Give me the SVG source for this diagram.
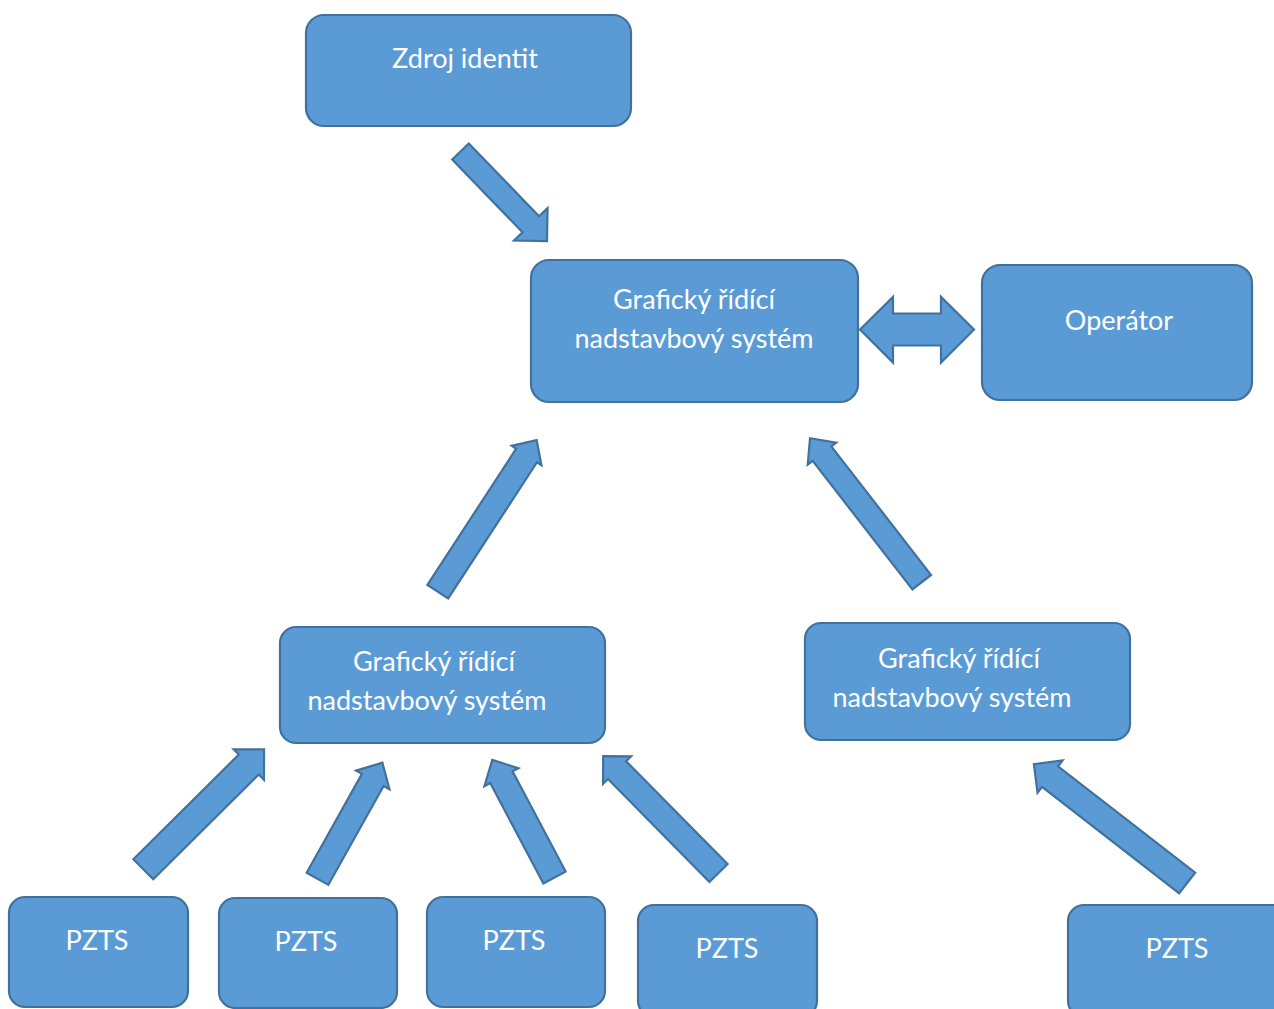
<svg xmlns="http://www.w3.org/2000/svg" width="1274" height="1009" viewBox="0 0 1274 1009">
<style>
.box{fill:#5B9BD5;stroke:#41719C;stroke-width:2.2}
.arr{fill:#5B9BD5;stroke:#41719C;stroke-width:2.2;stroke-linejoin:miter}
.t{font-family:Lato,"Open Sans",sans-serif;font-size:27px;fill:#FFFFFF;text-anchor:middle}
</style>
<rect width="1274" height="1009" fill="#FFFFFF"/>
<g id="connectors">
<polygon class="arr" transform="translate(460.5,151.5) rotate(46)" points="0,-11.5 101.2,-11.5 101.2,-23.3 124.5,0 101.2,23.3 101.2,11.5 0,11.5"/>
<polygon class="arr" points="860,329.5 893,297 893,313.5 941,313.5 941,297 974,329.5 941,362.5 941,345.5 893,345.5 893,362.5"/>
<polygon class="arr" transform="translate(437.8,591.7) rotate(-56.9)" points="0,-12.4 162.6,-12.4 162.6,-17.7 181,0 162.6,17.7 162.6,12.4 0,12.4"/>
<polygon class="arr" transform="translate(921.7,582.2) rotate(-127.8)" points="0,-11.8 162.7,-11.8 162.7,-18 182.2,0 162.7,18 162.7,11.8 0,11.8"/>
<polygon class="arr" transform="translate(143.3,869.3) rotate(-44.8)" points="0,-14.1 148.7,-14.1 148.7,-21.5 170.2,0 148.7,21.5 148.7,14.1 0,14.1"/>
<polygon class="arr" transform="translate(317.5,878.8) rotate(-60.8)" points="0,-12.4 113.3,-12.4 113.3,-19.1 133,0 113.3,19.1 113.3,12.4 0,12.4"/>
<polygon class="arr" transform="translate(554.5,877.5) rotate(-117.9)" points="0,-12.6 113.5,-12.6 113.5,-19.2 133,0 113.5,19.2 113.5,12.6 0,12.6"/>
<polygon class="arr" transform="translate(718.5,873) rotate(-134.6)" points="0,-12.7 144.5,-12.7 144.5,-19.7 164.2,0 144.5,19.7 144.5,12.7 0,12.7"/>
<polygon class="arr" transform="translate(1187.2,883) rotate(-142.2)" points="0,-13 173.6,-13 173.6,-20.4 194,0 173.6,20.4 173.6,13 0,13"/>
</g>
<g id="zdroj">
<rect class="box" x="306" y="15" width="325" height="111" rx="18"/>
<text class="t" x="465" y="68">Zdroj identit</text>
</g>
<g id="gns-top">
<rect class="box" x="531" y="260" width="327" height="142" rx="18"/>
<text class="t" x="694" y="309">Grafický řídící</text>
<text class="t" x="694" y="348">nadstavbový systém</text>
</g>
<g id="operator">
<rect class="box" x="982" y="265" width="270" height="135" rx="18"/>
<text class="t" x="1119" y="330">Operátor</text>
</g>
<g id="gns-left">
<rect class="box" x="280" y="627" width="325" height="116" rx="16"/>
<text class="t" x="434" y="671">Grafický řídící</text>
<text class="t" x="427" y="710">nadstavbový systém</text>
</g>
<g id="gns-right">
<rect class="box" x="805" y="623" width="325" height="117" rx="16"/>
<text class="t" x="959" y="668">Grafický řídící</text>
<text class="t" x="952" y="707">nadstavbový systém</text>
</g>
<g id="pzts1">
<rect class="box" x="9" y="897" width="179" height="110" rx="16"/>
<text class="t" x="97" y="950">PZTS</text>
</g>
<g id="pzts2">
<rect class="box" x="219" y="898" width="178" height="110" rx="16"/>
<text class="t" x="306" y="951">PZTS</text>
</g>
<g id="pzts3">
<rect class="box" x="427" y="897" width="178" height="110" rx="16"/>
<text class="t" x="514" y="950">PZTS</text>
</g>
<g id="pzts4">
<rect class="box" x="638" y="905" width="179" height="112" rx="16"/>
<text class="t" x="727" y="958">PZTS</text>
</g>
<g id="pzts5">
<rect class="box" x="1068" y="905" width="222" height="112" rx="16"/>
<text class="t" x="1177" y="958">PZTS</text>
</g>
</svg>
